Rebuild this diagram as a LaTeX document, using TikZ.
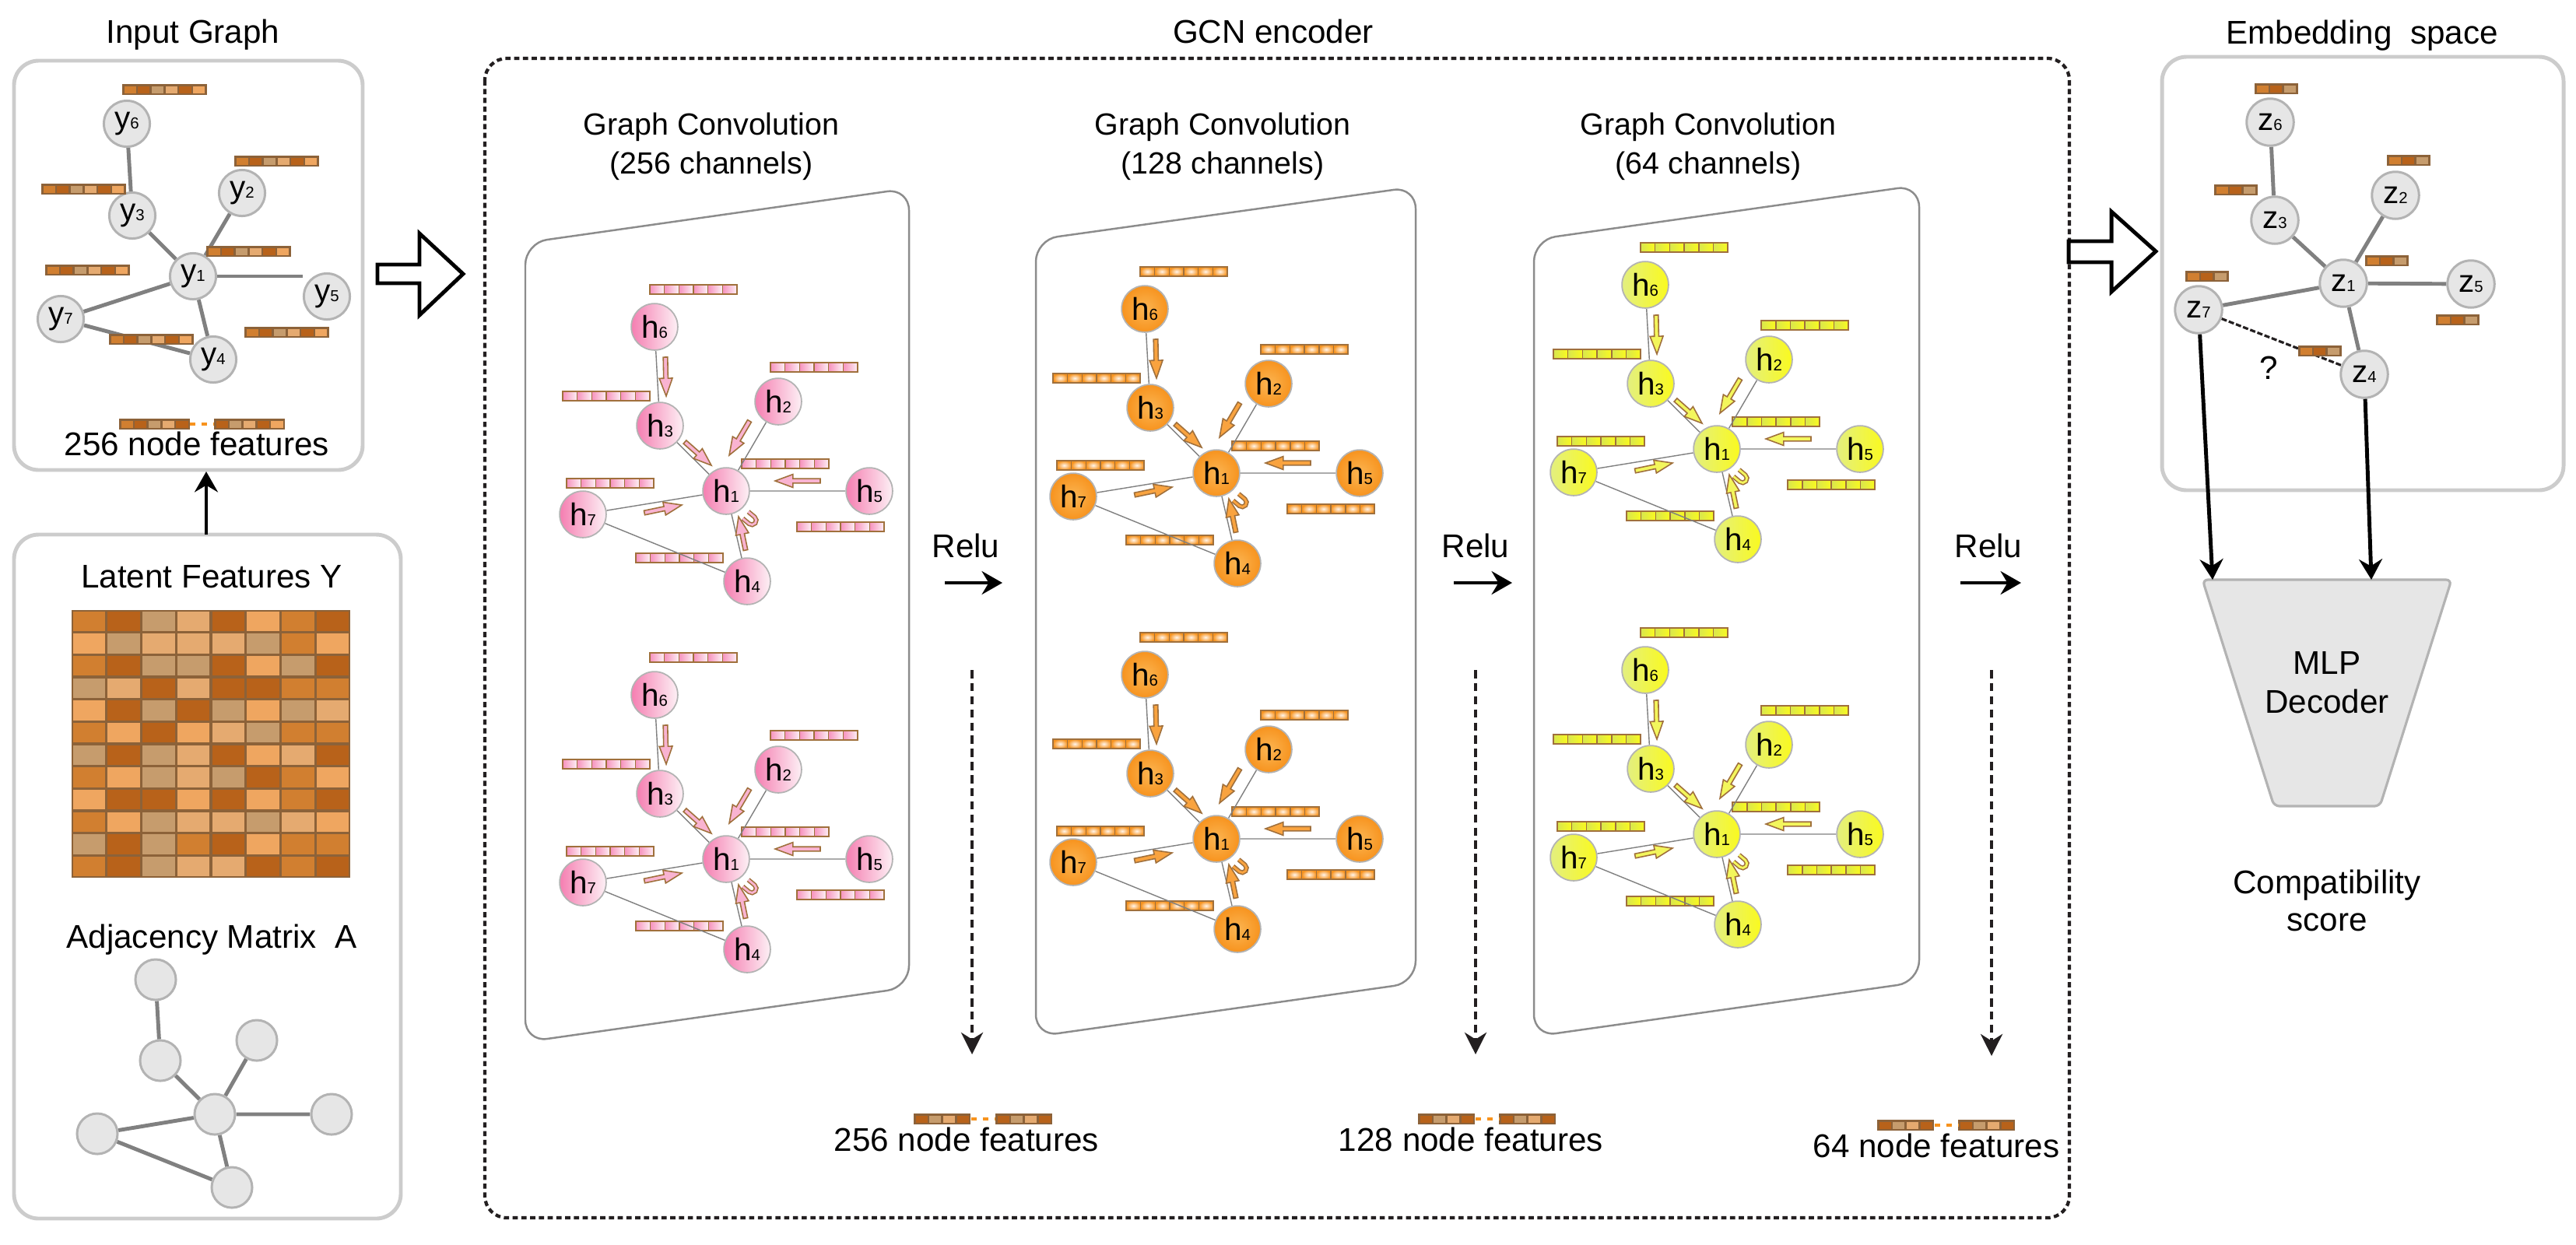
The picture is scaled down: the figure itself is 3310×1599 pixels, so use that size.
\documentclass[tikz,border=0pt]{standalone}
\usepackage{fontspec}
\setmainfont{Liberation Sans}
\usetikzlibrary{arrows.meta,calc}
\pgfdeclarelayer{bg}
\pgfsetlayers{bg,main}
\definecolor{cA}{HTML}{D17F30}
\definecolor{cB}{HTML}{B8621A}
\definecolor{cC}{HTML}{C69C6D}
\definecolor{cD}{HTML}{E5AA70}
\definecolor{cE}{HTML}{EFA660}
\definecolor{frameB}{HTML}{8C6239}
\definecolor{panelG}{HTML}{CCCCCC}
\definecolor{edgeG}{HTML}{808080}
\definecolor{nodeF}{HTML}{E6E6E6}
\definecolor{nodeD}{HTML}{B3B3B3}
\definecolor{arrB}{HTML}{A0703C}
\definecolor{pkL}{HTML}{F57EB1}
\definecolor{pkR}{HTML}{FDF0F5}
\definecolor{pkA}{HTML}{F9B3D1}
\definecolor{orL}{HTML}{FBB552}
\definecolor{orR}{HTML}{F7931E}
\definecolor{orA}{HTML}{F9A33F}
\definecolor{yeL}{HTML}{E3EF80}
\definecolor{yeR}{HTML}{FAFA1E}
\definecolor{yeA}{HTML}{F3F65C}
\definecolor{yeC}{HTML}{D8E64E}
\definecolor{dkL}{HTML}{231F20}
\definecolor{parG}{HTML}{8C8C8C}

\newcommand\txt{\fontsize{12}{14}\selectfont}
\newcommand\ttl{\fontsize{11.2}{13}\selectfont}
\newcommand\nfs{\fontsize{11.5}{12}\selectfont}
\newcommand\sfs{\fontsize{5.8}{6}\selectfont}
\newcommand\lab[2]{#1{\sfs #2}}

\tikzset{
 gn/.style={circle, draw=nodeD, line width=0.85pt, fill=nodeF, minimum size=16.8pt, inner sep=0pt, font=\nfs},
 an/.style={gn, minimum size=14.8pt},
 zn/.style={gn, minimum size=17.2pt},
 ge/.style={draw=edgeG, line width=1.4pt},
 hn/.style={circle, draw=nodeD, line width=0.5pt, minimum size=17pt, inner sep=0pt, font=\nfs},
 hnpk/.style={hn, left color=pkL, right color=pkR},
 hnor/.style={hn, inner color=orL, outer color=orR},
 hnye/.style={hn, left color=yeL, right color=yeR},
 he/.style={draw=edgeG, line width=0.4pt},
 cellpk/.style={left color=pkL!85, right color=pkR},
 cellor/.style={inner color=orange!8!white, outer color=orR},
 cellye/.style={left color=yeC, right color=yeR},
 panel/.style={draw=panelG, line width=1.4pt, rounded corners=9pt},
 para/.style={draw=parG, line width=0.7pt, rounded corners=8pt},
 txtn/.style={font=\txt, inner sep=0pt, anchor=base},
 ttln/.style={font=\ttl, inner sep=0pt, anchor=base},
 hollow/.style={draw=black, line width=1.4pt, fill=white, line join=miter},
 blackarr/.style={draw=black, line width=1.4pt, -{Stealth[length=7.5pt, width=8.5pt, inset=2.5pt]}},
 dasharr/.style={draw=dkL, line width=1pt, dash pattern=on 3pt off 1.8pt, -{Stealth[length=8pt, width=8pt, inset=2.5pt]}},
}

% brown palette bar: x y list
\newcommand\colbar[3]{%
 \foreach \c [count=\k from 0] in {#3} {
  \fill[frameB] ({#1+\k*17.7},#2) rectangle ++(20.2,14);
  \fill[c\c] ({#1+\k*17.7+2.5},{#2+2.5}) rectangle ++(15.2,9);
 }}
% gradient bar in GCN panels
\newcommand\pbar[3]{%
 \foreach \k in {0,...,5} {
  \draw[draw=arrB, line width=0.45pt, cell#3] ({#1+\k*18.67},#2) rectangle ++(18.67,12);
 }}
% block arrow
\newcommand\blk[3]{%
 \coordinate (bA) at #1; \coordinate (bB) at #2;
 \coordinate (bH) at ($(bB)!6.5pt!(bA)$);
 \draw[draw=arrB, fill=#3, line width=0.45pt, line join=miter]
  ($(bA)!0.8pt!90:(bB)$) -- ($(bH)!0.8pt!-90:(bA)$) -- ($(bH)!2.4pt!-90:(bA)$) -- (bB)
  -- ($(bH)!2.4pt!90:(bA)$) -- ($(bH)!0.8pt!90:(bA)$) -- ($(bA)!0.8pt!-90:(bB)$) -- cycle;}
% self loop
\newcommand\sloop[3]{%
 \begin{scope}[shift={(#1,#2)}, rotate=-40]
  \draw[arrB, line width=1.7pt] (0pt,-1.6pt) -- (3pt,-1.6pt) arc[start angle=-90,end angle=90,radius=1.6pt] -- (0pt,1.6pt);
  \draw[#3, line width=0.8pt] (0pt,-1.6pt) -- (3pt,-1.6pt) arc[start angle=-90,end angle=90,radius=1.6pt] -- (0pt,1.6pt);
 \end{scope}}
% one GCN graph
\newcommand\gcngraph[4]{%
 \begin{scope}[shift={(#2,#3)}]
  \begin{pgfonlayer}{bg}
   \pbar{835}{366}{#4}\pbar{723}{503}{#4}\pbar{990}{466}{#4}\pbar{953}{590}{#4}
   \pbar{728}{615}{#4}\pbar{1024}{671}{#4}\pbar{817}{711}{#4}
  \end{pgfonlayer}
  \node[hn#4] (#1h6) at (841,420) {\lab{h}{6}};
  \node[hn#4] (#1h3) at (848,547) {\lab{h}{3}};
  \node[hn#4] (#1h2) at (1000,516) {\lab{h}{2}};
  \node[hn#4] (#1h1) at (933,631) {\lab{h}{1}};
  \node[hn#4] (#1h5) at (1117,631) {\lab{h}{5}};
  \node[hn#4] (#1h7) at (749,661) {\lab{h}{7}};
  \node[hn#4] (#1h4) at (960,747) {\lab{h}{4}};
  \begin{pgfonlayer}{bg}
   \draw[he] (#1h6) -- (#1h3) (#1h3) -- (#1h1) (#1h2) -- (#1h1) (#1h1) -- (#1h5)
    (#1h7) -- (#1h1) (#1h7) -- (#1h4) (#1h1) -- (#1h4);
  \end{pgfonlayer}
  \blk{(855,459)}{(856,509)}{#4A}
  \blk{(880,568)}{(914,598)}{#4A}
  \blk{(963,541)}{(937,585)}{#4A}
  \blk{(1054,618)}{(996,618)}{#4A}
  \blk{(828,659)}{(876,649)}{#4A}
  \blk{(958,707)}{(949,664)}{#4A}
  \sloop{958}{662}{#4A}
 \end{scope}}

\begin{document}
\begin{tikzpicture}[x=0.01cm, y=-0.01cm]
\useasboundingbox (0,0) rectangle (3310,1599);
\begin{pgfonlayer}{bg}
\fill[white] (0,0) rectangle (3310,1599);
\end{pgfonlayer}

% ===== titles =====
\node[txtn] (tin) at (248,55) {Input Graph};
\node[txtn] (tgcn) at (1636,55) {GCN encoder};
\node[txtn] (temb) at (3035,56) {Embedding\ \ space};

% ===== input graph panel =====
\draw[panel] (18,78) rectangle (466,604);
\node[gn] (y6) at (163,159) {\lab{y}{6}};
\node[gn] (y3) at (170,277) {\lab{y}{3}};
\node[gn] (y2) at (311,248) {\lab{y}{2}};
\node[gn] (y1) at (248,355) {\lab{y}{1}};
\node[gn] (y5) at (420,381) {\lab{y}{5}};
\node[gn] (y7) at (78,410) {\lab{y}{7}};
\node[gn] (y4) at (274,462) {\lab{y}{4}};
\begin{pgfonlayer}{bg}
 \draw[ge] (y6) -- (y3) (y3) -- (y1) (y2) -- (y1) (y7) -- (y1) (y7) -- (y4) (y1) -- (y4);
 \draw[ge] (y1.center) -- (y5.west |- y1.center);
\end{pgfonlayer}
\colbar{157}{108}{A,B,C,D,B,E}
\colbar{301}{200}{A,B,C,D,B,E}
\colbar{53}{236}{A,B,C,D,B,E}
\colbar{265}{316}{A,B,C,D,B,E}
\colbar{58}{340}{A,B,C,D,B,E}
\colbar{140}{429}{A,B,C,D,B,E}
\colbar{314}{420}{A,B,C,D,B,E}
\colbar{153}{538}{A,B,C,D,B}
\colbar{275}{538}{B,C,D,B,E}
\draw[orR, line width=1.1pt, dash pattern=on 2pt off 2.2pt] (244,545) -- (275,545);
\node[txtn] (t256a) at (253,585) {256 node features};

% ===== latent panel =====
\draw[panel] (18,687) rectangle (515,1566);
\coordinate (latTop) at (265,687);
\coordinate (inBot) at (265,606);
\draw[blackarr] (latTop) -- (inBot);
\node[txtn] (tlat) at (272,755) {Latent Features Y};
\fill[frameB] (92,784) rectangle (450,1128);
\foreach \row [count=\r from 0] in {{A,B,C,D,B,E,A,B},{E,C,D,D,D,C,A,E},{A,B,C,C,B,E,C,B},{C,D,B,D,B,B,A,A},{E,B,C,B,C,E,C,D},{A,E,B,E,D,C,A,A},{C,B,C,D,B,E,D,B},{A,E,C,D,C,B,A,E},{E,B,B,E,B,E,A,B},{A,E,C,D,D,C,D,E},{C,B,C,A,B,E,A,A},{A,B,C,D,D,B,A,B}} {
 \foreach \c [count=\k from 0] in \row {
  \fill[c\c] ({92+\k*44.75+1.7},{784+\r*28.67+1.7}) rectangle ({92+(\k+1)*44.75-1.7},{784+(\r+1)*28.67-1.7});
 }
}
\node[txtn] (tadj) at (272,1218) {Adjacency Matrix\ \ A};
\node[an] (n6) at (200,1259) {};
\node[an] (n3) at (206,1363) {};
\node[an] (n2) at (330,1337) {};
\node[an] (n1) at (276,1432) {};
\node[an] (n5) at (426,1432) {};
\node[an] (n7) at (125,1457) {};
\node[an] (n4) at (298,1526) {};
\begin{pgfonlayer}{bg}
 \draw[ge] (n6) -- (n3) (n3) -- (n1) (n2) -- (n1) (n1) -- (n5) (n7) -- (n1) (n7) -- (n4) (n1) -- (n4);
\end{pgfonlayer}

% ===== hollow arrow 1 =====
\draw[hollow] (485,340) -- (539,340) -- (539,300) -- (595,352) -- (539,405) -- (539,364) -- (485,364) -- cycle;

% ===== GCN encoder box =====
\draw[draw=dkL, line width=1.2pt, dash pattern=on 1.9pt off 1.3pt, rounded corners=8pt] (623,75) rectangle (2659,1565);

\node[ttln] (g1a) at (914,173) {Graph Convolution};
\node[ttln] (g1b) at (914,223) {(256 channels)};
\node[ttln] (g2a) at (1571,173) {Graph Convolution};
\node[ttln] (g2b) at (1571,223) {(128 channels)};
\node[ttln] (g3a) at (2195,173) {Graph Convolution};
\node[ttln] (g3b) at (2195,223) {(64 channels)};

\draw[para] (675,312) -- (1168,242) -- (1168,1269) -- (675,1339) -- cycle;
\draw[para] (1331,308) -- (1819,240) -- (1819,1263) -- (1331,1332) -- cycle;
\draw[para] (1971,308) -- (2466,238) -- (2466,1262) -- (1971,1332) -- cycle;

\gcngraph{pa}{0}{0}{pk}
\gcngraph{pb}{0}{473}{pk}
\gcngraph{qa}{630}{-23}{or}
\gcngraph{qb}{630}{447}{or}
\gcngraph{ra}{1273}{-54}{ye}
\gcngraph{rb}{1273}{441}{ye}

% Relu
\node[txtn] (relu1) at (1241,716) {Relu};
\node[txtn] (relu2) at (1896,716) {Relu};
\node[txtn] (relu3) at (2555,716) {Relu};
\coordinate (r1s) at (1214,749); \coordinate (r1e) at (1288,749);
\coordinate (r2s) at (1868,749); \coordinate (r2e) at (1943,749);
\coordinate (r3s) at (2519,749); \coordinate (r3e) at (2597,749);
\draw[blackarr] (r1s) -- (r1e);
\draw[blackarr] (r2s) -- (r2e);
\draw[blackarr] (r3s) -- (r3e);

% dashed down arrows
\coordinate (d1s) at (1249,861); \coordinate (d1e) at (1249,1355);
\coordinate (d2s) at (1896,861); \coordinate (d2e) at (1896,1355);
\coordinate (d3s) at (2559,861); \coordinate (d3e) at (2559,1357);
\draw[dasharr] (d1s) -- (d1e);
\draw[dasharr] (d2s) -- (d2e);
\draw[dasharr] (d3s) -- (d3e);

% feature markers
\colbar{1174}{1431}{B,C,D,B}
\colbar{1279}{1431}{B,C,D,B}
\draw[orR, line width=1.1pt, dash pattern=on 2pt off 2.2pt] (1248,1438) -- (1279,1438);
\node[txtn] (t256b) at (1242,1479) {256 node features};
\colbar{1822}{1431}{B,C,D,B}
\colbar{1926}{1431}{B,C,D,B}
\draw[orR, line width=1.1pt, dash pattern=on 2pt off 2.2pt] (1896,1438) -- (1926,1438);
\node[txtn] (t128) at (1890,1479) {128 node features};
\colbar{2412}{1439}{B,C,D,B}
\colbar{2516}{1439}{B,C,D,B}
\draw[orR, line width=1.1pt, dash pattern=on 2pt off 2.2pt] (2486,1446) -- (2516,1446);
\node[txtn] (t64) at (2488,1487) {64 node features};

% ===== hollow arrow 2 =====
\draw[hollow] (2658,310) -- (2713,310) -- (2713,272) -- (2770,323) -- (2713,375) -- (2713,337) -- (2658,337) -- cycle;

% ===== embedding panel =====
\draw[panel] (2778,73) rectangle (3294,630);
\node[zn] (z6) at (2917,157) {\lab{z}{6}};
\node[zn] (z3) at (2923,283) {\lab{z}{3}};
\node[zn] (z2) at (3078,251) {\lab{z}{2}};
\node[zn] (z1) at (3011,364) {\lab{z}{1}};
\node[zn] (z5) at (3175,365) {\lab{z}{5}};
\node[zn] (z7) at (2825,398) {\lab{z}{7}};
\node[zn] (z4) at (3038,481) {\lab{z}{4}};
\begin{pgfonlayer}{bg}
 \draw[ge] (z6) -- (z3) (z3) -- (z1) (z2) -- (z1) (z1) -- (z5) (z7) -- (z1) (z1) -- (z4);
 \draw[draw=dkL, line width=0.9pt, dash pattern=on 2pt off 0.8pt] (z7) -- (z4);
\end{pgfonlayer}
\colbar{2897}{107}{A,B,C}
\colbar{2845}{237}{A,B,C}
\colbar{3067}{199}{A,B,C}
\colbar{3039}{328}{A,B,C}
\colbar{3130}{404}{A,B,C}
\colbar{2953}{444}{A,B,C}
\colbar{2808}{348}{A,B,C}
\node[font=\txt, inner sep=0pt] (qm) at (2915,473) {?};

% ===== MLP decoder =====
\draw[draw=nodeD, fill=nodeF, line width=0.9pt, rounded corners=2pt] (2830,745) -- (3150,745) -- (3058,1036) -- (2922,1036) -- cycle;
\coordinate (mlpL) at (2843,745);
\coordinate (mlpR) at (3047,745);
\draw[blackarr] (z7) -- (mlpL);
\draw[blackarr] (z4) -- (mlpR);
\node[txtn] (tmlp) at (2990,866) {MLP};
\node[txtn] (tdec) at (2990,916) {Decoder};
\node[txtn] (tcomp) at (2990,1148) {Compatibility};
\node[txtn] (tscore) at (2990,1196) {score};
\end{tikzpicture}
\end{document}
